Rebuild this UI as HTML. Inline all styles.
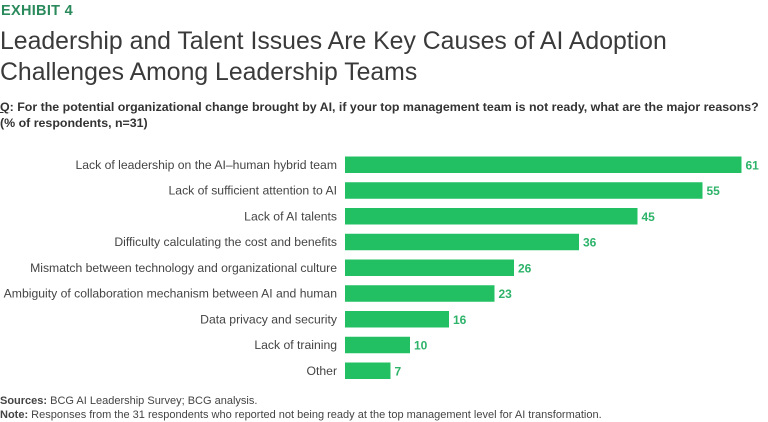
<!DOCTYPE html>
<html><head><meta charset="utf-8">
<style>
html,body{margin:0;padding:0;background:#fff;}
body{width:768px;height:422px;overflow:hidden;position:relative;font-family:"Liberation Sans",sans-serif;color:#333;}
.abs{position:absolute;white-space:nowrap;}
</style></head>
<body>
<div class="abs" style="left:1px;top:3px;font-size:14.5px;font-weight:bold;color:#2a8a5c;letter-spacing:0.3px;">EXHIBIT 4</div>
<div class="abs" style="left:0px;top:26px;font-size:24.8px;line-height:31px;color:#3a3a3a;">Leadership and Talent Issues Are Key Causes of AI Adoption<br>Challenges Among Leadership Teams</div>
<div class="abs" style="left:0px;top:99px;font-size:12.4px;line-height:16px;font-weight:bold;color:#333;"><span style="text-decoration:underline">Q</span>: For the potential organizational change brought by AI, if your top management team is not ready, what are the major reasons?<br>(% of respondents, n=31)</div>
<svg id="chart" width="768" height="422" style="position:absolute;left:0;top:0;"></svg>
<div class="abs" style="left:0px;top:395px;font-size:11px;line-height:13.5px;color:#444;"><b>Sources:</b> BCG AI Leadership Survey; BCG analysis.<br><b>Note:</b> Responses from the 31 respondents who reported not being ready at the top management level for AI transformation.</div>
<script>
const categories = ["Lack of leadership on the AI–human hybrid team","Lack of sufficient attention to AI","Lack of AI talents","Difficulty calculating the cost and benefits","Mismatch between technology and organizational culture","Ambiguity of collaboration mechanism between AI and human","Data privacy and security","Lack of training","Other"];
const values = [61,55,45,36,26,23,16,10,7];
const svg = document.getElementById('chart');
const NS = 'http://www.w3.org/2000/svg';
const x0 = 345, scale = 6.5;
function xScale(v){ return x0 + v*scale; }
function yScale(i){ return 156.5 + i*25.75; }
const barH = 16.5;
categories.forEach((c,i)=>{
  const y = yScale(i);
  const t = document.createElementNS(NS,'text');
  
  
  t.setAttribute('x', 337); t.setAttribute('y', y+barH/2+4);
  t.setAttribute('text-anchor','end');
  t.setAttribute('font-size','12.2'); t.setAttribute('fill','#444');
  t.setAttribute('font-family','"Liberation Sans",sans-serif');
  t.textContent = c; svg.appendChild(t);
  const r = document.createElementNS(NS,'rect');
  
  
  r.setAttribute('x', x0); r.setAttribute('y', y);
  r.setAttribute('width', xScale(values[i])-x0); r.setAttribute('height', barH);
  r.setAttribute('fill','#22c063'); svg.appendChild(r);
  const v = document.createElementNS(NS,'text');
  
  
  v.setAttribute('x', xScale(values[i])+4); v.setAttribute('y', y+barH/2+4.5);
  v.setAttribute('font-size','12'); v.setAttribute('font-weight','bold'); v.setAttribute('fill','#2eb36a');
  v.setAttribute('font-family','"Liberation Sans",sans-serif');
  v.textContent = values[i]; svg.appendChild(v);
});
</script>
</body></html>
